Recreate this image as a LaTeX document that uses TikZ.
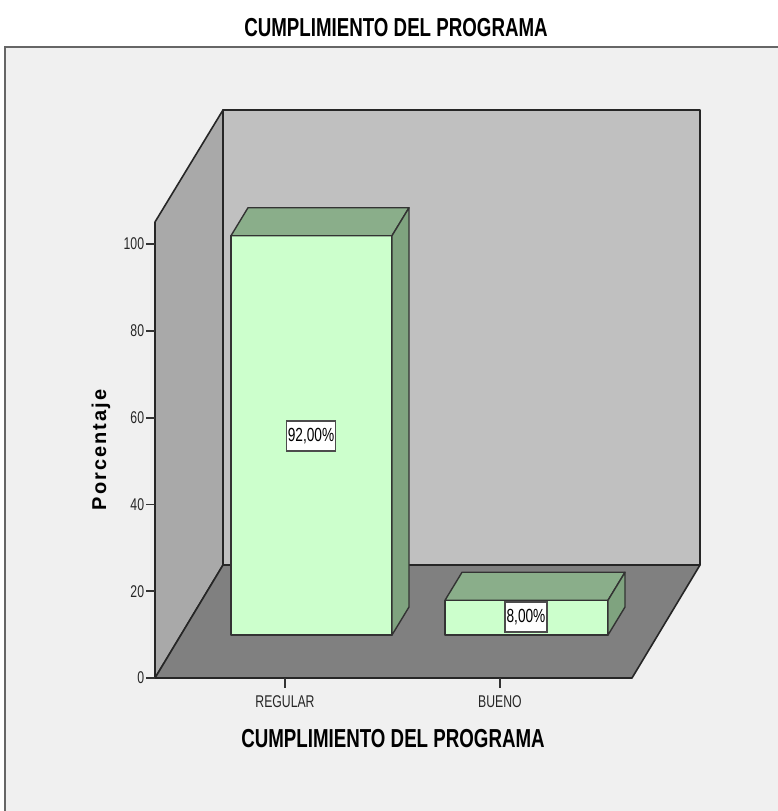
\documentclass[tikz,border=0pt]{standalone}
\usepackage{fontspec}
\setmainfont{Liberation Sans}
\newfontfamily\narrowfont{Liberation Sans}[FakeStretch=0.72]
\newfontfamily\spacedfont{Liberation Sans}[LetterSpace=10]
\usetikzlibrary{positioning}

\definecolor{chartbg}{HTML}{F0F0F0}
\definecolor{backwall}{HTML}{C0C0C0}
\definecolor{sidewall}{HTML}{A9A9A9}
\definecolor{floorgray}{HTML}{808080}
\definecolor{barfront}{HTML}{CCFFCC}
\definecolor{bartop}{HTML}{8AAE8A}
\definecolor{barside}{HTML}{7FA37F}

\newcommand{\ys}{4.34}

\tikzset{
  wall/.style={draw=black!85,line width=1.6pt,line join=round},
  barface/.style={draw=black!80,line width=1.4pt,line join=round},
  pctbox/.style={draw=black!70,fill=white,line width=1.3pt,inner xsep=1.5pt,
                 minimum height=30pt,font=\narrowfont\fontsize{19}{22}\selectfont},
  ticklab/.style={font=\narrowfont\fontsize{17}{20}\selectfont,text=black!85},
  bigtitle/.style={font=\narrowfont\bfseries\fontsize{26}{30}\selectfont}
}

\begin{document}
\begin{tikzpicture}[x=1pt,y=-1pt]

\useasboundingbox (0,0) rectangle (777,811);
\fill[white] (0,0) rectangle (777,811);
\draw[fill=chartbg,draw=black!60,line width=2pt] (5,47) rectangle (800,840);

\node[bigtitle] (title) at (396,28) {CUMPLIMIENTO DEL PROGRAMA};

% walls and floor
\coordinate (o) at (155,678);
\coordinate (ob) at (223,565);
\coordinate (lt) at (155,222);
\coordinate (bt) at (223,110);
\coordinate (br) at (700,565);
\coordinate (brt) at (700,110);
\coordinate (fr) at (632,678);

\filldraw[wall,fill=backwall] (ob) -- (bt) -- (brt) -- (br) -- cycle;
\filldraw[wall,fill=sidewall] (o) -- (lt) -- (bt) -- (ob) -- cycle;
\filldraw[wall,fill=floorgray] (o) -- (fr) -- (br) -- (ob) -- cycle;
\draw[black!85,line width=2.4pt] (bt) -- (brt);

% bars
\foreach \name/\xl/\xr/\val in {regular/231/392/92, bueno/445/608/8}
{
  \pgfmathsetmacro{\yt}{635-\ys*\val}
  \filldraw[barface,fill=barfront] (\xl,635) rectangle (\xr,\yt);
  \filldraw[barface,fill=bartop] (\xl,\yt) -- (\xr,\yt) -- ++(17,-28) -- (\xl+17,\yt-28) -- cycle;
  \filldraw[barface,fill=barside] (\xr,\yt) -- ++(17,-28) -- (\xr+17,607) -- (\xr,635) -- cycle;
}

\node[pctbox] (lregular) at (311,436) {92,00\%};
\node[pctbox] (lbueno) at (526,617) {8,00\%};

% y axis
\foreach \v in {0,20,...,100}
{
  \coordinate (yt\v) at (155,678-\ys*\v);
  \draw[black!80,line width=1.8pt] (yt\v) -- ++(-9,0) node[ticklab,left,inner sep=1pt] (ylab\v) {\v};
}

% x axis
\foreach \name/\xx/\txt in {regular/285/REGULAR, bueno/500/BUENO}
{
  \coordinate (xt\name) at (\xx,678);
  \draw[black!80,line width=1.8pt] (xt\name) -- ++(0,10);
  \node[ticklab] (xlab\name) at (\xx,702) {\txt};
}

\node[bigtitle] (xtitle) at (393,739) {CUMPLIMIENTO DEL PROGRAMA};
\node[rotate=90,font=\spacedfont\bfseries\fontsize{20}{24}\selectfont] (ytitle) at (101,450) {Porcentaje};

\end{tikzpicture}
\end{document}
